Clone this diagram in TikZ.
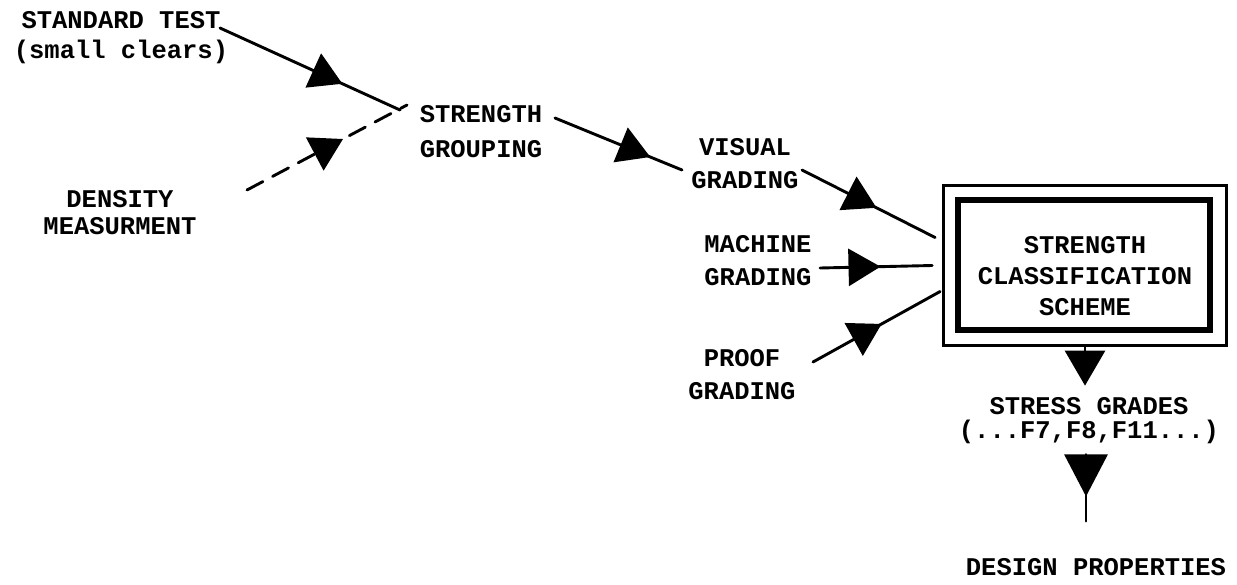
\documentclass[tikz,border=0pt]{standalone}
\usepackage{fontspec}
\setmainfont{Liberation Mono}[BoldFont={Liberation Mono Bold}]
\usetikzlibrary{arrows.meta,calc,decorations.markings}

\tikzset{
  lbl/.style={inner sep=0pt, align=center, font=\bfseries\fontsize{25.5}{#1}\selectfont},
  lbl/.default=33,
  conn/.style={line width=2.9pt, line cap=round},
  dashconn/.style={conn, dash pattern=on 18pt off 11pt},
  midtip/.style={postaction={decorate}, decoration={markings,
      mark=at position #1 with {\arrow{Triangle[length=32pt,width=37pt]}}}},
  framein/.style={draw, line width=5.5pt, minimum width=252pt, minimum height=130pt, inner sep=0pt},
  frameout/.style={draw, line width=2.8pt, minimum width=283pt, minimum height=160pt, inner sep=0pt},
}

\begin{document}
\begin{tikzpicture}[x=1pt,y=-1pt]
\useasboundingbox (0,0) rectangle (1237,584);

% text blocks
\node[lbl=30] (std) at (121,38) {STANDARD TEST\\(small clears)};
\node[lbl=27] (dm) at (120,213) {DENSITY\\MEASURMENT};
\node[lbl=35] (sg) at (481,132) {STRENGTH\\GROUPING};
\node[lbl=33] (vg) at (745,164) {VISUAL\\GRADING};
\node[lbl=33] (mg) at (758,261) {MACHINE\\GRADING};
\node[lbl=33] (pg) at (742,375) {PROOF\\GRADING};

% classification scheme: double frame
\node[frameout] (outer) at (1085,265.5) {};
\node[framein] (inner) at (1084,265) {};
\node[lbl=31] (cls) at (1085,276) {STRENGTH\\CLASSIFICATION\\SCHEME};

\node[lbl=24] (stress) at (1089,421) {STRESS GRADES\\(...F7,F8,F11...)};
\node[lbl] (dp) at (1096,567) {DESIGN PROPERTIES};

% inputs to the strength grouping
\draw[conn, midtip=0.68] ($(std)+(99,-10)$) -- ($(sg)+(-81,-22)$);
\draw[dashconn, midtip=0.6] ($(dm)+(127,-23)$) -- ($(sg)+(-74,-27)$);

% strength grouping to visual grading
\draw[conn, midtip=0.75] ($(sg)+(74,-14)$) -- ($(vg)+(-63,6)$);

% grading methods into the scheme
\draw[conn, midtip=0.56] ($(vg)+(57,6)$) -- ($(outer.west)+(-7,-28)$);
\draw[conn, midtip=0.54] ($(mg)+(62,7)$) -- ($(outer.west)+(-10,0)$);
\draw[conn, midtip=0.54] ($(pg)+(71,-13)$) -- ($(outer.west)+(-2,26)$);

% scheme to stress grades to design properties
\draw[conn, -{Triangle[length=35pt,width=40pt]}] (outer.south) -- ($(stress.north -| outer.south)+(0,-12)$);
\draw[conn, postaction={decorate}, decoration={markings,
      mark=at position 0.63 with {\arrow{Triangle[length=42pt,width=43pt]}}}]
  ($(stress.south -| outer.south)+(1,10)$) -- ($(dp.north -| outer.south)+(1,-37)$);
\end{tikzpicture}
\end{document}
